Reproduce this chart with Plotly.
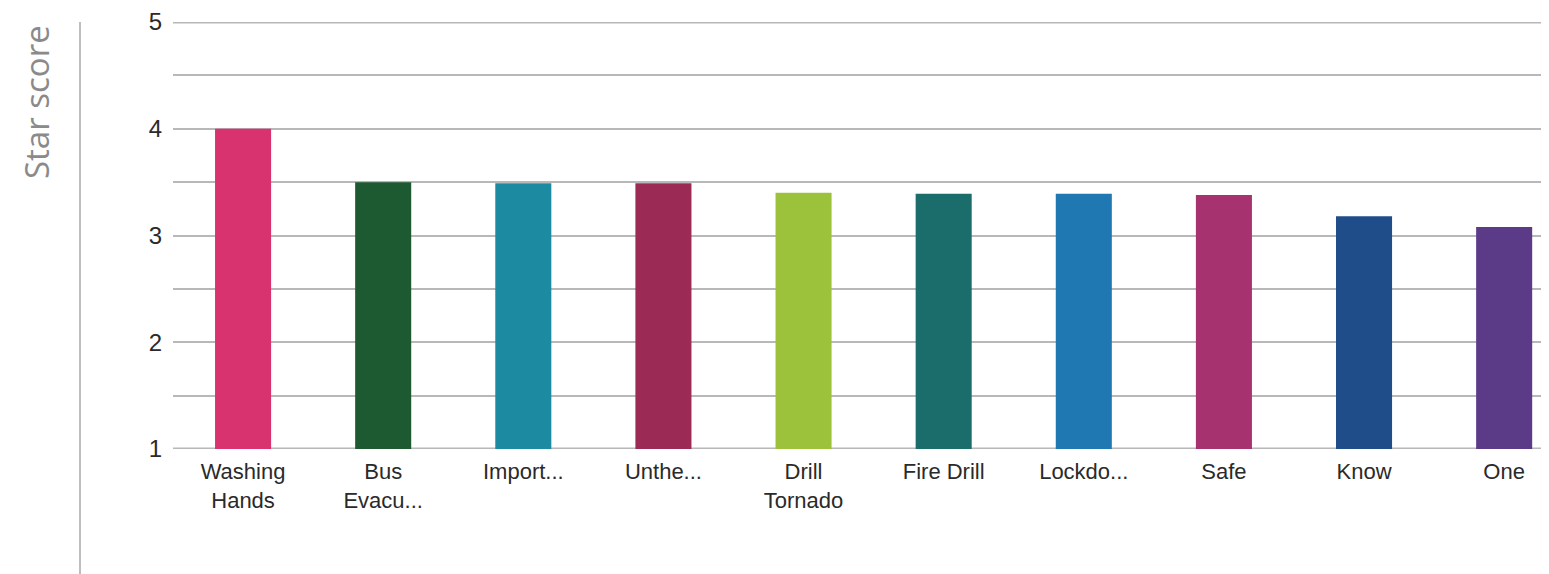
import plotly.graph_objects as go

categories = ["Washing<br>Hands", "Bus<br>Evacu...", "Import...", "Unthe...", "Drill<br>Tornado",
              "Fire Drill", "Lockdo...", "Safe", "Know", "One"]
scores = [4.0, 3.5, 3.49, 3.49, 3.4, 3.39, 3.39, 3.38, 3.18, 3.08]
colors = ["#d8336f", "#1d5a31", "#1c8ba1", "#9b2b55", "#9cc23b",
          "#1b6d6c", "#1f78b1", "#a6336f", "#1e4d89", "#5b3a88"]
y_ticks = [1, 2, 3, 4, 5]

OFF = 8  # page body margin
W, H = 1549 - OFF, 574 - OFF
L, R, T = 173 - OFF, 0, 22 - OFF
B = H - (449 - OFF)
pw = W - L - R
ph = H - T - B

GRID = "#b8b8b8"

fig = go.Figure(go.Bar(
    x=list(range(len(categories))), y=[s - 1 for s in scores], base=1,
    marker=dict(color=colors, line=dict(width=0)), width=0.4,
))

edge_lines = [dict(type="line", xref="paper", yref="y", x0=0, x1=1, y0=v, y1=v,
                   layer="below", line=dict(color=GRID, width=3))
              for v in (y_ticks[0], y_ticks[-1])]

fig.update_layout(
    width=W, height=H,
    margin=dict(l=L, r=R, t=T, b=B, pad=0),
    paper_bgcolor="white", plot_bgcolor="white",
    showlegend=False,
    xaxis=dict(
        tickmode="array", tickvals=list(range(len(categories))), ticktext=categories,
        range=[-0.5, 9.32], showgrid=False, zeroline=False, showline=False,
        ticks="", ticklabelstandoff=7,
        tickfont=dict(family="Liberation Sans, Arial", size=22, color="#2a2a2a"),
    ),
    yaxis=dict(
        range=[1, 5], tickmode="array", tickvals=y_ticks, ticktext=[str(v) for v in y_ticks],
        showgrid=True, gridcolor=GRID, gridwidth=1.5, zeroline=False, showline=False,
        ticks="", ticklabelstandoff=10,
        tickfont=dict(family="Liberation Sans, Arial", size=24, color="#2a2a2a"),
        minor=dict(dtick=0.5, showgrid=True, gridcolor=GRID, gridwidth=1.5, ticks=""),
    ),
    shapes=edge_lines + [dict(type="line", xref="paper", yref="paper",
                 x0=(80 - 173) / pw, x1=(80 - 173) / pw, y0=1.0, y1=-(574 - 449) / ph,
                 line=dict(color="#a8a8a8", width=1.5))],
    annotations=[dict(text="Star score", xref="paper", yref="paper",
                      x=(36 - 173) / pw, y=(449 - 102) / ph, textangle=-90,
                      showarrow=False, xanchor="center", yanchor="middle",
                      font=dict(family="Open Sans", size=33, color="#8a8a8a"))],
)

fig.write_html("out.html")
